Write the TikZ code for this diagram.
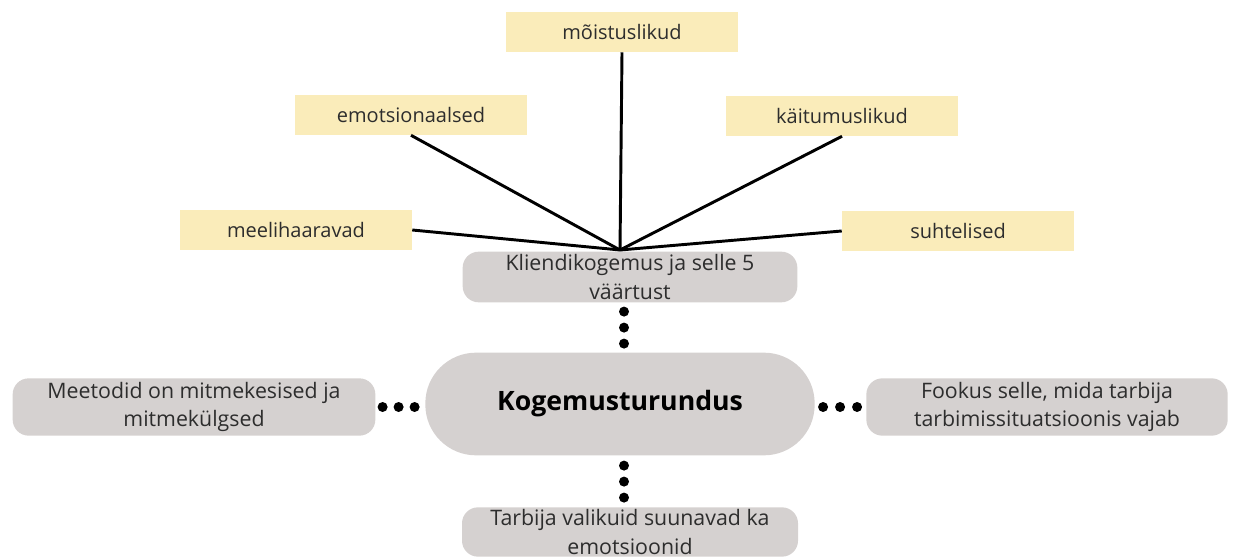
\documentclass[tikz,border=0pt]{standalone}
\usepackage{fontspec}
\setmainfont{Open Sans}
\usetikzlibrary{calc}

\definecolor{boxyellow}{RGB}{250,236,186}
\definecolor{boxgray}{RGB}{213,209,208}
\definecolor{textgray}{RGB}{45,45,45}

\begin{document}
\begin{tikzpicture}[x=0.75pt, y=-0.75pt,
    value/.style={fill=boxyellow, inner sep=0pt, minimum width=174pt,
      minimum height=30pt, text=textgray, font=\fontsize{15}{18}\selectfont},
    topic/.style={fill=boxgray, rounded corners=12pt, inner sep=0pt,
      align=center, text=textgray, font=\fontsize{16}{21.5}\selectfont},
    link/.style={line width=2.2pt},
    dot/.style={fill=black}]
      \useasboundingbox (0,0) rectangle (1237,559);

      % Nodes
      \node[value] (moist) at (622, 32)  {mõistuslikud};
      \node[value] (emo)   at (411, 115) {emotsionaalsed};
      \node[value] (kait)  at (842, 116) {käitumuslikud};
      \node[value] (meeli) at (296, 230) {meelihaaravad};
      \node[value] (suht)  at (958, 231) {suhtelised};

      \node[topic, minimum width=251pt, minimum height=38pt] (klient) at (630, 277)
        {Kliendikogemus ja selle 5\\väärtust};
      \node[topic, minimum width=292pt, minimum height=77pt, rounded corners=38pt,
        font=\fontsize{20}{24}\selectfont\bfseries, text=black] (kogem) at (620, 404)
        {Kogemusturundus};
      \node[topic, minimum width=272pt, minimum height=43pt] (meet) at (194, 407)
        {Meetodid on mitmekesised ja\\mitmekülgsed};
      \node[topic, minimum width=271pt, minimum height=43pt] (fook) at (1047, 407)
        {Fookus selle, mida tarbija\\tarbimissituatsioonis vajab};
      \node[topic, minimum width=252pt, minimum height=37pt] (tarb) at (630, 532)
        {Tarbija valikuid suunavad ka\\emotsioonid};

      \coordinate (hub) at (620, 250);

      % Edges
      \path[link] (hub) edge (moist.south)
                        edge (emo.south)
                        edge (kait.south)
                        edge (meeli.east)
                        edge (suht.west);

      % Dots
      \foreach \d in {9,25,41}
        \fill[dot] ($(klient.south)+(-6,\d)$) circle[radius=3.75pt];
      \foreach \d in {10,26,42}
        \fill[dot] ($(kogem.south)+(4,\d)$) circle[radius=3.75pt];
      \foreach \d in {7,23,39}
        \fill[dot] ($(meet.east)+(\d,0)$) circle[radius=3.75pt];
      \foreach \d in {9,26,43}
        \fill[dot] ($(fook.west)-(\d,0)$) circle[radius=3.75pt];

    \end{tikzpicture}
\end{document}
